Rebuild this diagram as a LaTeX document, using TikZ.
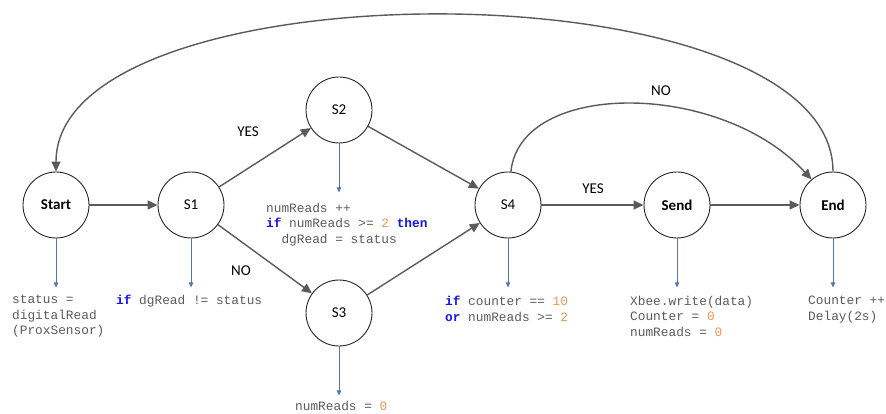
\documentclass[tikz,border=0pt]{standalone}
\usepackage{fontspec}
\setmainfont{Carlito}
\setmonofont{Liberation Mono}
\usetikzlibrary{arrows.meta}
\definecolor{codegray}{RGB}{90,90,90}
\definecolor{kwblue}{RGB}{20,20,230}
\definecolor{numorange}{RGB}{232,150,90}
\definecolor{noteblue}{RGB}{68,114,196}
\definecolor{flowgray}{RGB}{90,90,90}
\tikzstyle{state}=[circle,draw=black!85,line width=0.9pt,fill=white,minimum size=66pt,inner sep=0pt,font=\fontsize{15}{18}\selectfont]
\tikzstyle{flow}=[-{Triangle[length=10pt,width=9pt]},draw=flowgray,line width=1.4pt]
\tikzstyle{note}=[-{Triangle[length=5pt,width=4.5pt]},draw=noteblue!70!gray,fill=noteblue,line width=0.6pt]
\tikzstyle{cond}=[font=\fontsize{15}{18}\selectfont]
\tikzstyle{code}=[anchor=north west,inner sep=0pt,align=left,text=codegray,font=\fontsize{12.8}{15.5}\selectfont\ttfamily]
\newcommand{\kw}[1]{\textcolor{kwblue}{\textbf{#1}}}
\newcommand{\numc}[1]{\textcolor{numorange}{#1}}

\begin{document}
\begin{tikzpicture}[x=1pt,y=-1pt]
  \useasboundingbox (0,0) rectangle (886,414);
  \begin{scope}
  % states
  \node[state] (Start) at (56,205) {\textbf{Start}};
  \node[state] (S1) at (191,205) {S1};
  \node[state] (S2) at (339,110) {S2};
  \node[state] (S3) at (339,313) {S3};
  \node[state] (S4) at (508,205) {S4};
  \node[state] (Send) at (677,205) {\textbf{Send}};
  \node[state] (End) at (833,205) {\textbf{End}};

  % transitions
  \draw[flow] (Start) -- (S1);
  \draw[flow] (S1) -- (S2);
  \draw[flow] (S1) -- (S3);
  \draw[flow] (S2) -- (S4);
  \draw[flow] (S3) -- (S4);
  \draw[flow] (S4) -- (Send);
  \draw[flow] (Send) -- (End);
  \draw[flow] (S4.85) .. controls (520,80) and (720,80) .. (End.130); %no
  \draw[flow] (End.north) .. controls (833,-37) and (56,-37) .. (Start.north); %loop
  \node[cond] (yes1) at (248,132) {YES};
  \node[cond] (no1) at (241,271) {NO};
  \node[cond] (no2) at (661,91) {NO};
  \node[cond] (yes2) at (593,189) {YES};

  % actions
  \foreach \s in {Start,S1,S2,S3,S4,Send,End} {
    \coordinate (\s-n) at ([yshift=-49pt]\s.south);
    \draw[note] (\s.south) -- (\s-n);
  }
  \node[code] (Start-c) at (12,295) {status =\\digitalRead\\(ProxSensor)};
  \node[code] (S1-c) at (116,295) {\kw{if} dgRead != status};
  \node[code] (S2-c) at (266,203) {numReads ++\\\kw{if} numReads >= \numc{2} \kw{then}\\\ \ dgRead = status};
  \node[code] (S3-c) at (295,401) {numReads = \numc{0}};
  \node[code] (S4-c) at (445,296) {\kw{if} counter == \numc{10}\\\kw{or} numReads >= \numc{2}};
  \node[code] (Send-c) at (630,296) {Xbee.write(data)\\Counter = \numc{0}\\numReads = \numc{0}};
  \node[code] (End-c) at (808,296) {Counter ++\\Delay(2s)};
  \end{scope}
\end{tikzpicture}
\end{document}
